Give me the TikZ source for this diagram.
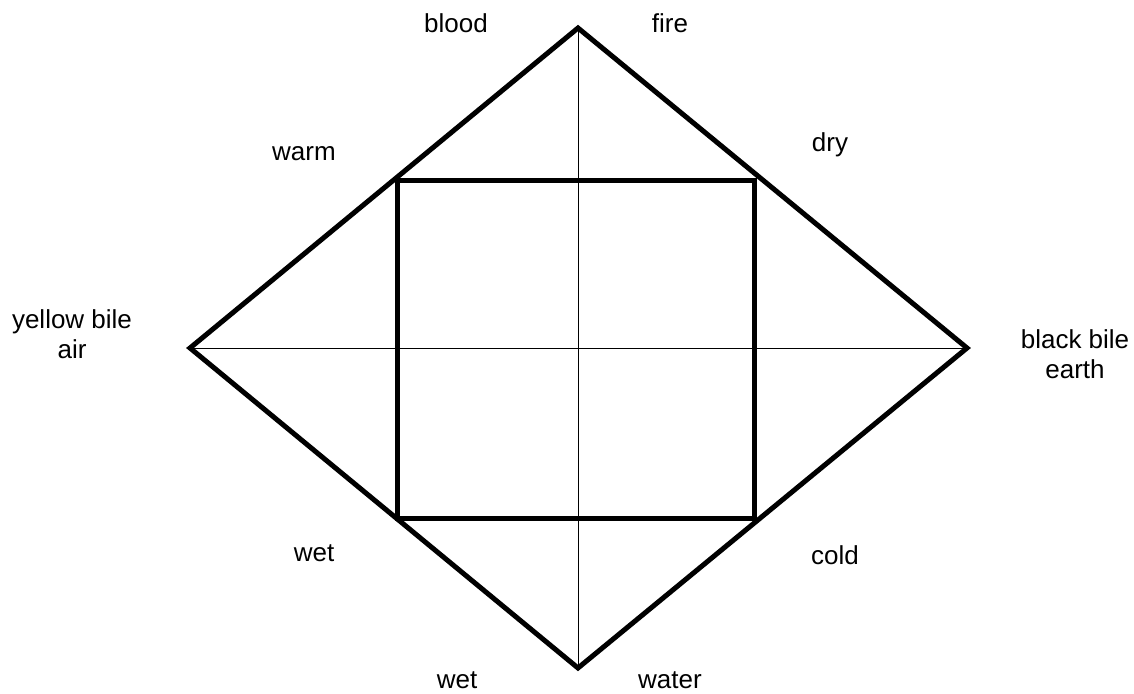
\documentclass[tikz,border=0pt]{standalone}
\usepackage{fontspec}
\setmainfont{Liberation Sans}
\usetikzlibrary{arrows.meta}
\tikzset{
  every picture/.style={line join=miter, line cap=butt, >=Stealth},
  frame/.style={line width=5pt},
  axis/.style={line width=1pt},
  lbl/.style={font=\fontsize{26}{30}\selectfont, align=center, inner sep=0pt},
}

\begin{document}
\begin{tikzpicture}[x=1pt,y=-1pt]
\useasboundingbox (0,0) rectangle (1134,693);
\coordinate (T) at (578,28);
\coordinate (R) at (967,348);
\coordinate (B) at (578,668);
\coordinate (L) at (190,348);
\draw[axis] (T)--(B);
\draw[axis] (L)--(R);
\draw[frame] (T)--(R)--(B)--(L)--cycle;
\draw[frame] (397,180) rectangle (754,518);
\node[lbl] (blood) at (456,23) {blood};
\node[lbl] (fire) at (670,23) {fire};
\node[lbl] (warm) at (304,154) {warm};
\node[lbl] (dry) at (830,145) {dry};
\node[lbl] (ybile) at (72,334) {yellow bile\\air};
\node[lbl] (bbile) at (1075,354) {black bile\\earth};
\node[lbl] (wetl) at (314,553) {wet};
\node[lbl] (cold) at (835,555) {cold};
\node[lbl] (wetb) at (457,680) {wet};
\node[lbl] (water) at (670,680) {water};
\end{tikzpicture}
\end{document}
